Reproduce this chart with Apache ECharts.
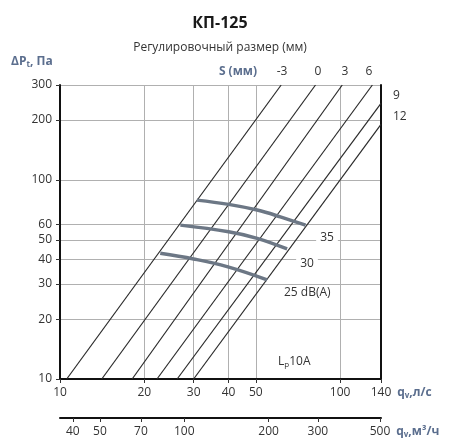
<!DOCTYPE html>
<html><head><meta charset="utf-8">
<script src="https://cdn.jsdelivr.net/npm/echarts@6/dist/echarts.min.js"></script>
<style>html,body{margin:0;padding:0;background:#fff}#c{width:458px;height:444px}</style>
</head><body><div id="c"></div>
<script>
// ---- data ----
const xTicks = [10, 20, 30, 40, 50, 100, 140];           // q_v, l/s
const yTicks = [10, 20, 30, 40, 50, 60, 100, 200, 300];   // ΔPt, Pa
const x2Ticks = [40, 50, 70, 100, 200, 300, 500];         // q_v, m3/h
const sNames = ['-3', '0', '3', '6', '9', '12'];
const sLineQ = [[10.57, 61.6], [14.1, 81.7], [18.1, 101.8], [22.2, 130.4], [26.2, 140], [30.0, 140]];
const sLineP = [[10, 300], [10, 300], [10, 300], [10, 300], [10, 242.6], [10, 190.4]];
const dbNames = ['35', '30', '25 dB(A)'];
const db35Q = [30.8, 40.0, 50.6, 61.2, 75.3];
const db35P = [79.2, 75.4, 70.6, 65.3, 59.3];
const db30Q = [26.9, 40.0, 50.6, 64.7];
const db30P = [59.3, 54.9, 50.9, 45.0];
const db25Q = [22.8, 30.0, 39.5, 54.9];
const db25P = [42.8, 40.1, 36.7, 31.5];

const FONT = 'Open Sans';
const TXT = '#333';
const BLUE = '#5b6e8e';
const zip = (a, b) => a.map((v, i) => [v, b[i]]);

const series = [];
sLineQ.forEach((q, i) => {
  series.push({
    type: 'line', name: 'S' + sNames[i], xAxisIndex: 0, yAxisIndex: 0,
    data: zip(q, sLineP[i]), showSymbol: false, silent: true,
    lineStyle: { color: '#2a2a2a', width: 1.2 }, z: 3
  });
});
[[db35Q, db35P], [db30Q, db30P], [db25Q, db25P]].forEach((d, i) => {
  series.push({
    type: 'line', name: dbNames[i], xAxisIndex: 0, yAxisIndex: 0,
    data: zip(d[0], d[1]), showSymbol: false, smooth: 0.4, silent: true,
    lineStyle: { color: '#6c7785', width: 3.5 }, z: 4
  });
});

const nameRich = {
  a: { color: BLUE, fontSize: 12, fontWeight: 'bold', fontFamily: FONT },
  s: { color: BLUE, fontSize: 8, fontWeight: 'bold', fontFamily: FONT, padding: [7, 0, 0, 0] }
};

const chart = echarts.init(document.getElementById('c'), null, { renderer: 'canvas' });
chart.setOption({
  animation: false,
  textStyle: { fontFamily: FONT },
  grid: { left: 60, right: 77, top: 85, bottom: 65, containLabel: false },
  xAxis: [{
    type: 'log', min: 10, max: 140, position: 'bottom',
    axisLine: { show: true, lineStyle: { color: '#111', width: 2 } },
    axisTick: { show: true, length: 4, inside: false, customValues: xTicks, lineStyle: { color: '#333' } },
    splitLine: { show: true, lineStyle: { color: '#b0b0b0', width: 1 } },
    minorTick: { show: false }, minorSplitLine: { show: false },
    axisLabel: { customValues: xTicks, color: TXT, fontSize: 12, margin: 8, fontFamily: FONT },
    name: '{a|q}{s|v}{a|,л/с}', nameLocation: 'end', nameGap: 12,
    nameTextStyle: { rich: nameRich, verticalAlign: 'top', padding: [6, 0, 0, 0] }
  }, {
    type: 'log', min: 36, max: 504, position: 'bottom', offset: 39, gridIndex: 0,
    axisLine: { show: true, lineStyle: { color: '#111', width: 2 } },
    axisTick: { show: true, length: 4, customValues: x2Ticks, lineStyle: { color: '#333' } },
    splitLine: { show: false },
    axisLabel: { customValues: x2Ticks, color: TXT, fontSize: 12, margin: 8, fontFamily: FONT },
    name: '{a|q}{s|v}{a|,м³/ч}', nameLocation: 'end', nameGap: 12,
    nameTextStyle: { rich: nameRich, verticalAlign: 'top', padding: [6, 0, 0, 0] }
  }],
  yAxis: [{
    type: 'log', min: 10, max: 300,
    axisLine: { show: true, lineStyle: { color: '#111', width: 2 } },
    axisTick: { show: true, length: 4, customValues: yTicks, lineStyle: { color: '#333' } },
    splitLine: { show: true, lineStyle: { color: '#b0b0b0', width: 1 } },
    minorTick: { show: false }, minorSplitLine: { show: false },
    axisLabel: { customValues: yTicks, color: TXT, fontSize: 12, margin: 8, fontFamily: FONT },
    name: '{a|ΔP}{s|t}{a|, Па}', nameLocation: 'end', nameGap: 16,
    nameTextStyle: { align: 'left', padding: [0, 0, 0, -49], rich: nameRich }
  }, {
    type: 'log', min: 10, max: 300, position: 'right',
    axisLine: { show: true, lineStyle: { color: '#111', width: 2 } },
    axisTick: { show: false }, axisLabel: { show: false }, splitLine: { show: false }
  }],
  graphic: [
    { type: 'text', x: 220, y: 23, style: { text: 'КП-125', font: 'bold 16px "Open Sans"', fill: '#1a1a1a', align: 'center', verticalAlign: 'middle' } },
    { type: 'text', x: 220, y: 48, style: { text: 'Регулировочный размер (мм)', font: '12px "Open Sans"', fill: TXT, align: 'center', verticalAlign: 'middle' } },
    { type: 'text', x: 257, y: 72, style: { text: 'S (мм)', font: 'bold 12px "Open Sans"', fill: BLUE, align: 'right', verticalAlign: 'middle' } },
    { type: 'text', x: 282, y: 72, style: { text: '-3', font: '12px "Open Sans"', fill: TXT, align: 'center', verticalAlign: 'middle' } },
    { type: 'text', x: 318, y: 72, style: { text: '0', font: '12px "Open Sans"', fill: TXT, align: 'center', verticalAlign: 'middle' } },
    { type: 'text', x: 345, y: 72, style: { text: '3', font: '12px "Open Sans"', fill: TXT, align: 'center', verticalAlign: 'middle' } },
    { type: 'text', x: 369, y: 72, style: { text: '6', font: '12px "Open Sans"', fill: TXT, align: 'center', verticalAlign: 'middle' } },
    { type: 'text', x: 393, y: 96, style: { text: '9', font: '12px "Open Sans"', fill: TXT, align: 'left', verticalAlign: 'middle' } },
    { type: 'text', x: 393, y: 117, style: { text: '12', font: '12px "Open Sans"', fill: TXT, align: 'left', verticalAlign: 'middle' } },
    { type: 'text', x: 327, y: 238, z: 10, style: { text: '35', font: '12px "Open Sans"', fill: TXT, align: 'center', verticalAlign: 'middle', backgroundColor: '#fff', padding: [0, 4] } },
    { type: 'text', x: 307, y: 264, z: 10, style: { text: '30', font: '12px "Open Sans"', fill: TXT, align: 'center', verticalAlign: 'middle', backgroundColor: '#fff', padding: [0, 4] } },
    { type: 'text', x: 282, y: 293, z: 10, style: { text: '25 dB(A)', font: '12px "Open Sans"', fill: TXT, align: 'left', verticalAlign: 'middle', backgroundColor: '#fff', padding: [0, 2] } },
    { type: 'text', x: 278, y: 362, z: 10, style: {
      text: '{a|L}{s|p}{a|10A}', align: 'left', verticalAlign: 'middle',
      rich: { a: { font: '12px "Open Sans"', fill: TXT }, s: { font: '8px "Open Sans"', fill: TXT, padding: [6, 0, 0, 0] } } } }
  ],
  series: series
});
</script></body></html>
